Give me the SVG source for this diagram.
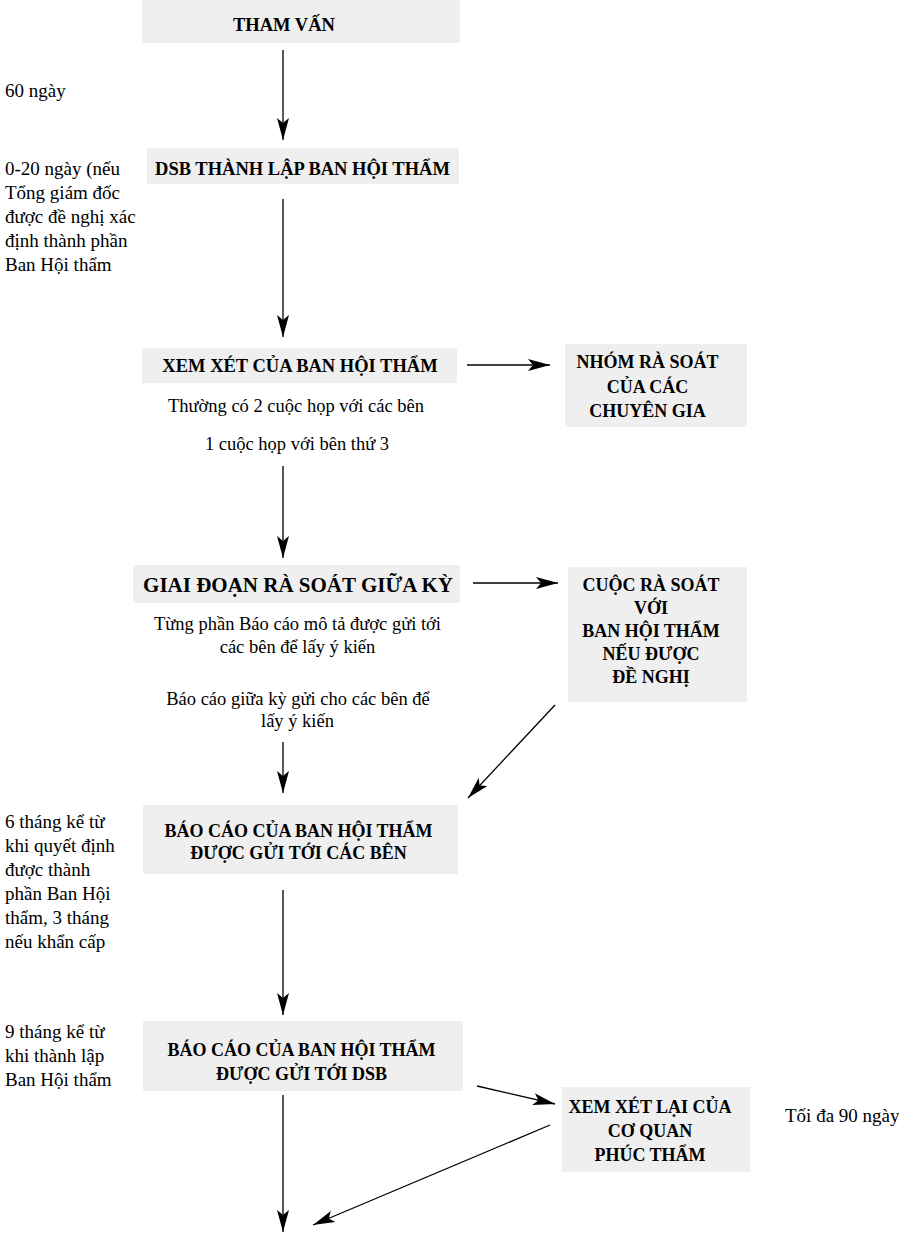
<svg xmlns="http://www.w3.org/2000/svg" width="899" height="1233" viewBox="0 0 899 1233">
<style>
.box{fill:#efefef;stroke:none}
.b{font-family:"Liberation Serif","Times New Roman",serif;font-weight:bold;font-size:18.5px;fill:#000;text-anchor:middle}
.bs{font-family:"Liberation Serif","Times New Roman",serif;font-weight:bold;font-size:18px;fill:#000;text-anchor:middle}
.bl{font-family:"Liberation Serif","Times New Roman",serif;font-weight:bold;font-size:21px;fill:#000;text-anchor:middle}
.n{font-family:"Liberation Serif","Times New Roman",serif;font-size:18.5px;fill:#000;text-anchor:middle}
.l{font-family:"Liberation Serif","Times New Roman",serif;font-size:19px;fill:#000}
.c{stroke:#000;stroke-width:1.3;fill:none;marker-end:url(#ah)}
</style>
<defs>
<marker id="ah" markerUnits="userSpaceOnUse" viewBox="0 0 22 12" markerWidth="22" markerHeight="12" refX="22" refY="6" orient="auto">
<path d="M0,0 L22,6 L0,12 L5,6 Z" fill="#000"/>
</marker>
</defs>
<rect width="899" height="1233" fill="#fff"/>

<g id="notes">
<text class="l" x="5" y="97">60 ngày</text>
<text class="l" x="5" y="175">0-20 ngày (nếu</text>
<text class="l" x="5" y="199">Tổng giám đốc</text>
<text class="l" x="5" y="223">được đề nghị xác</text>
<text class="l" x="5" y="247">định thành phần</text>
<text class="l" x="5" y="271">Ban Hội thẩm</text>
<text class="l" x="5" y="828">6 tháng kể từ</text>
<text class="l" x="5" y="852">khi quyết định</text>
<text class="l" x="5" y="876">được thành</text>
<text class="l" x="5" y="900">phần Ban Hội</text>
<text class="l" x="5" y="924">thẩm, 3 tháng</text>
<text class="l" x="5" y="948">nếu khẩn cấp</text>
<text class="l" x="5" y="1038">9 tháng kể từ</text>
<text class="l" x="5" y="1062">khi thành lập</text>
<text class="l" x="5" y="1086">Ban Hội thẩm</text>
<text class="l" x="785" y="1122">Tối đa 90 ngày</text>
<text class="n" x="296" y="412">Thường có 2 cuộc họp với các bên</text>
<text class="n" x="297" y="450">1 cuộc họp với bên thứ 3</text>
<text class="n" x="297.5" y="630">Từng phần Báo cáo mô tả được gửi tới</text>
<text class="n" x="297.5" y="653">các bên để lấy ý kiến</text>
<text class="n" x="298" y="705">Báo cáo giữa kỳ gửi cho các bên để</text>
<text class="n" x="297.5" y="727">lấy ý kiến</text>
</g>

<g id="n-tham-van">
<rect class="box" x="142" y="0" width="318" height="43"/>
<text class="b" x="284" y="31">THAM VẤN</text>
</g>
<g id="n-dsb">
<rect class="box" x="147" y="148" width="312" height="36"/>
<text class="b" x="302.5" y="175">DSB THÀNH LẬP BAN HỘI THẨM</text>
</g>
<g id="n-xem-xet">
<rect class="box" x="142" y="348" width="315" height="35"/>
<text class="b" x="300" y="372">XEM XÉT CỦA BAN HỘI THẨM</text>
</g>
<g id="n-nhom">
<rect class="box" x="565" y="344" width="182" height="83"/>
<text class="bs" x="647.5" y="368">NHÓM RÀ SOÁT</text>
<text class="bs" x="647.5" y="393">CỦA CÁC</text>
<text class="bs" x="647.5" y="417">CHUYÊN GIA</text>
</g>
<g id="n-giai-doan">
<rect class="box" x="133" y="565" width="327" height="38"/>
<text class="bl" x="298" y="592">GIAI ĐOẠN RÀ SOÁT GIỮA KỲ</text>
</g>
<g id="n-cuoc">
<rect class="box" x="568" y="567" width="179" height="135"/>
<text class="bs" x="651" y="591">CUỘC RÀ SOÁT</text>
<text class="bs" x="651" y="614">VỚI</text>
<text class="bs" x="651" y="637">BAN HỘI THẨM</text>
<text class="bs" x="651" y="660">NẾU ĐƯỢC</text>
<text class="bs" x="651" y="683">ĐỀ NGHỊ</text>
</g>
<g id="n-bao-cao-1">
<rect class="box" x="143" y="805" width="315" height="69"/>
<text class="bs" x="298.5" y="837">BÁO CÁO CỦA BAN HỘI THẨM</text>
<text class="bs" x="298.5" y="859">ĐƯỢC GỬI TỚI CÁC BÊN</text>
</g>
<g id="n-bao-cao-2">
<rect class="box" x="143" y="1021" width="320" height="70"/>
<text class="bs" x="301.5" y="1056">BÁO CÁO CỦA BAN HỘI THẨM</text>
<text class="bs" x="301.5" y="1080">ĐƯỢC GỬI TỚI DSB</text>
</g>
<g id="n-phuc-tham">
<rect class="box" x="562" y="1087" width="188" height="85"/>
<text class="bs" x="650" y="1113">XEM XÉT LẠI CỦA</text>
<text class="bs" x="650" y="1137">CƠ QUAN</text>
<text class="bs" x="650" y="1161">PHÚC THẨM</text>
</g>

<g id="connectors">
<line class="c" x1="283" y1="50" x2="283" y2="140"/>
<line class="c" x1="283" y1="199" x2="283" y2="337"/>
<line class="c" x1="467" y1="365" x2="550" y2="365"/>
<line class="c" x1="283" y1="466" x2="283" y2="558"/>
<line class="c" x1="473" y1="583" x2="558" y2="583"/>
<line class="c" x1="283" y1="742" x2="283" y2="793"/>
<line class="c" x1="555" y1="705" x2="468" y2="798"/>
<line class="c" x1="283" y1="890" x2="283" y2="1015"/>
<line class="c" x1="283" y1="1095" x2="283" y2="1232"/>
<line class="c" x1="477" y1="1086" x2="555" y2="1104"/>
<line class="c" x1="550" y1="1125" x2="313" y2="1225"/>
</g>
</svg>
